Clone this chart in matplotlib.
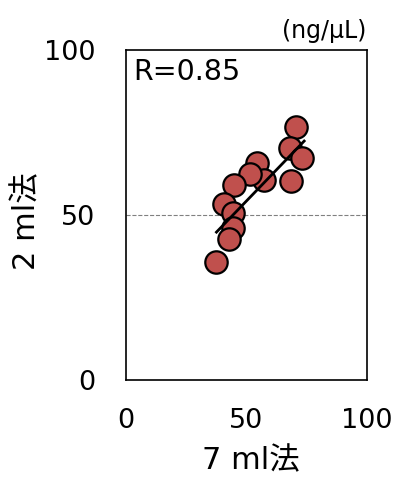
import numpy as np
import matplotlib.pyplot as plt

plt.rcParams["font.family"] = ["DejaVu Sans", "Noto Sans CJK JP"]

# 7 ml法 vs 2 ml法 (ng/μL)
x_7ml = [70.8, 68.3, 73.2, 68.7, 54.6, 57.4, 51.5, 44.9, 40.8, 44.3, 44.5, 42.7, 37.6]
y_2ml = [76.6, 70.2, 67.4, 60.4, 65.8, 60.6, 62.3, 59.1, 53.2, 50.5, 46.0, 42.6, 35.8]
fit_x = [37.6, 74.0]
fit_y = [44.8, 72.4]

fig = plt.figure(figsize=(3.97, 4.79), dpi=100)
ax = fig.add_axes([0.317, 0.2067, 0.607, 0.689])

ax.axhline(50, color="gray", linestyle="--", linewidth=0.8, zorder=1)
ax.scatter(x_7ml, y_2ml, s=260, color="#c0504d", edgecolor="black",
           linewidth=1.6, zorder=2)
ax.plot(fit_x, fit_y, color="black", linewidth=2, zorder=3)

ax.set_xlim(0, 100)
ax.set_ylim(0, 100)
ax.set_xticks([0, 50, 100])
ax.set_yticks([0, 50, 100])
ax.tick_params(length=0, labelsize=19.5)
ax.tick_params(axis="x", pad=20)
ax.tick_params(axis="y", pad=22)
for s in ax.spines.values():
    s.set_linewidth(1.2)

ax.set_xlabel("7 ml法", fontsize=22, labelpad=9)
ax.set_ylabel("2 ml法", fontsize=22, labelpad=2)
ax.xaxis.label.set_x(0.52)
ax.yaxis.label.set_y(0.48)
ax.text(0.03, 0.975, "R=0.85", transform=ax.transAxes, fontsize=20.5,
        ha="left", va="top")
ax.text(1.0, 1.02, "(ng/μL)", transform=ax.transAxes, fontsize=17,
        ha="right", va="bottom")

fig.savefig("out.png", dpi=100)
